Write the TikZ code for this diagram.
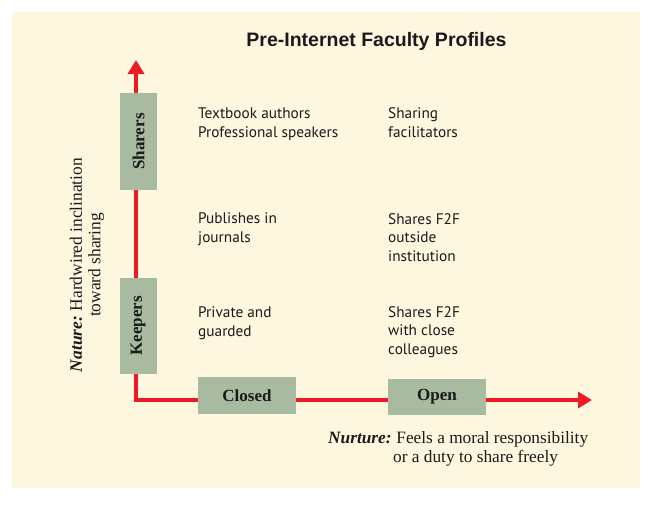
\documentclass[tikz,border=0pt]{standalone}
\usepackage{fontspec}
\setmainfont{Liberation Serif}
\newfontfamily\bodysans{PT Sans}
\newfontfamily\titlesans{Liberation Sans}
\usetikzlibrary{arrows.meta}
\definecolor{cream}{RGB}{254,247,224}
\definecolor{sage}{RGB}{168,187,160}
\definecolor{axisred}{RGB}{237,28,36}
\definecolor{ink}{RGB}{26,26,26}
\begin{document}
\begin{tikzpicture}[x=1pt,y=-1pt,
  axisline/.style={draw=axisred, line width=4pt},
  catbox/.style={fill=sage, inner sep=0pt, text=ink, font=\fontsize{17}{20}\selectfont\bfseries},
  cell/.style={anchor=base west, align=left, inner sep=0pt, text=ink, font=\bodysans\fontsize{15.3}{18.3}\selectfont},
  ]
\useasboundingbox (0,0) rectangle (650,504);
\fill[cream] (12,12) rectangle (640,488);
\node[anchor=base, inner sep=0pt, text=ink, font=\titlesans\bfseries\fontsize{19.5}{22}\selectfont] (title) at (376.5,46) {Pre-Internet Faculty Profiles};
\coordinate (origin) at (136,400);
\coordinate (ytip) at (136,60);
\coordinate (xtip) at (592,400);
\draw[axisline, {Triangle[length=14pt,width=16pt]}-{Triangle[length=14pt,width=16pt]}] (ytip) -- (origin) -- (xtip);
\node[catbox, rotate=90, minimum width=97pt, minimum height=37pt] (sharers) at (138.5,141.5) {Sharers};
\node[catbox, rotate=90, minimum width=96pt, minimum height=37pt] (keepers) at (138,326) {Keepers};
\node[catbox, minimum width=98pt, minimum height=37pt] (closed) at (247,395.5) {Closed};
\node[catbox, minimum width=98pt, minimum height=36pt] (open) at (437,397) {Open};
% base anchor of a multi-line node = baseline of its last line
\node[cell] (c13) at (198,137) {Textbook authors\\Professional speakers};
\node[cell] (c23) at (388,137) {Sharing\\facilitators};
\node[cell] (c12) at (198,242) {Publishes in\\journals};
\node[cell] (c22) at (388,261) {Shares F2F\\outside\\institution};
\node[cell] (c11) at (198,336) {Private and\\guarded};
\node[cell] (c21) at (388,354) {Shares F2F\\with close\\colleagues};
\node[rotate=90, align=center, inner sep=0pt, text=ink, font=\fontsize{17.4}{18.5}\selectfont] (nature) at (87,265) {\textbf{\textit{Nature:}}\kern-1pt{} Hardwired inclination\\toward sharing};
\node[anchor=base west, align=left, inner sep=0pt, text=ink, font=\fontsize{17.3}{19}\selectfont] (nurture) at (328,462) {\textbf{\textit{Nurture:}}\kern-1pt{} Feels a moral responsibility\\\hspace*{65pt}or a duty to share freely};
\end{tikzpicture}
\end{document}
